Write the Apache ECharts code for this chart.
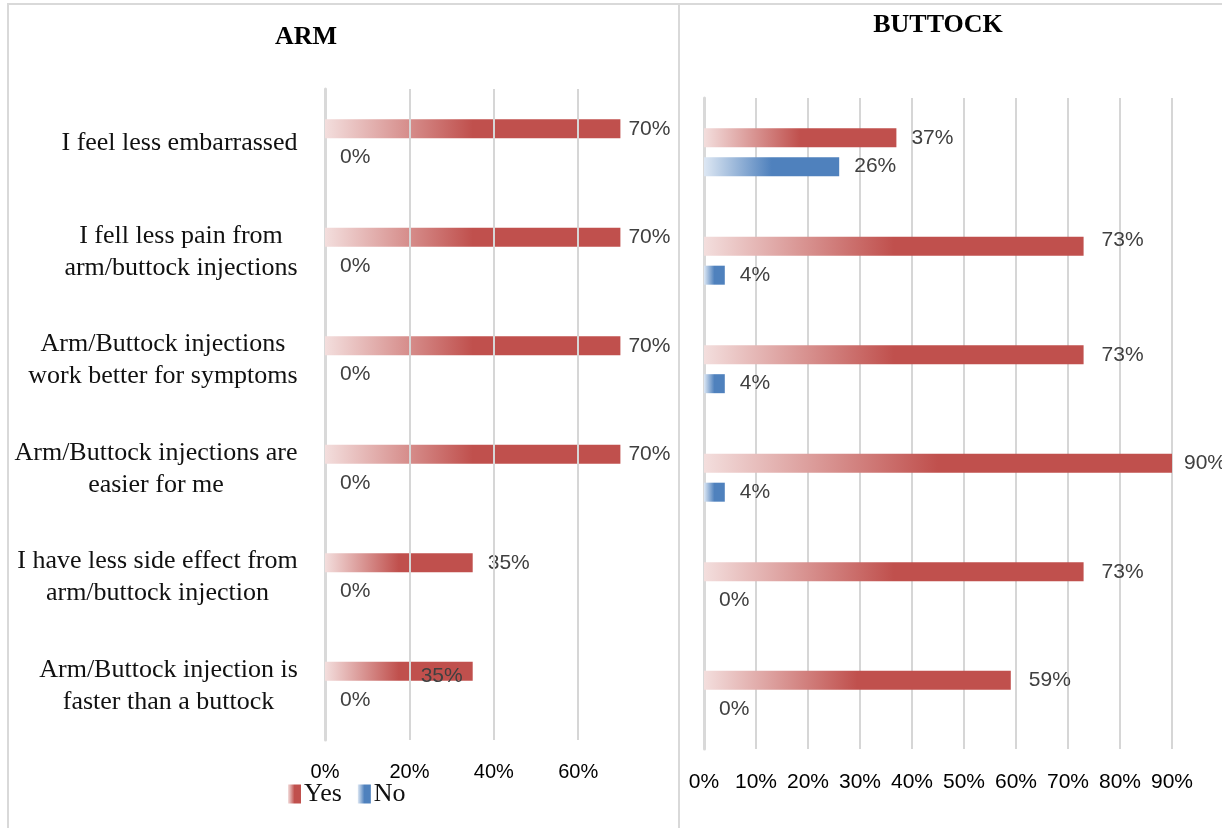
<!DOCTYPE html>
<html>
<head>
<meta charset="utf-8">
<script src="https://cdn.jsdelivr.net/npm/echarts@6/dist/echarts.min.js"></script>
<style>
html,body{margin:0;padding:0;background:#fff;}
#chart{width:1222px;height:828px;}
</style>
</head>
<body>
<div id="chart"></div>
<script>
// ---- data ----
const categories = [
  'I feel less embarrassed',
  'I fell less pain from\narm/buttock injections',
  'Arm/Buttock injections\nwork better for symptoms',
  'Arm/Buttock injections are\neasier for me',
  'I have less side effect from\narm/buttock injection',
  'Arm/Buttock injection is\nfaster than a buttock'
];
const seriesNames = ['Yes', 'No'];
const armYes = [70, 70, 70, 70, 35, 35];
const armNo = [0, 0, 0, 0, 0, 0];
const buttockYes = [37, 73, 73, 90, 73, 59];
const buttockNo = [26, 4, 4, 4, 0, 0];
const armTicks = [0, 20, 40, 60];
const buttockTicks = [0, 10, 20, 30, 40, 50, 60, 70, 80, 90];
const panelTitles = ['ARM', 'BUTTOCK'];

// ---- styling ----
const SERIF = '"Liberation Serif", "DejaVu Serif", serif';
const SANS = '"Liberation Sans", Arial, sans-serif';
const catFont = 26;
const gridColor = '#d6d6d6';

const yesGrad = new echarts.graphic.LinearGradient(0, 0, 1, 0, [
  {offset: 0, color: '#f3dedd'},
  {offset: 0.5, color: '#c0504d'},
  {offset: 1, color: '#c0504d'}
]);
const noGrad = new echarts.graphic.LinearGradient(0, 0, 1, 0, [
  {offset: 0, color: '#dde7f3'},
  {offset: 0.5, color: '#4f81bd'},
  {offset: 1, color: '#4f81bd'}
]);

// measure category label lines so each line is centred inside a right-aligned block
const cvs = document.createElement('canvas');
const ctx = cvs.getContext('2d');
ctx.font = catFont + 'px ' + SERIF;
const rich = {};
categories.forEach((c, i) => {
  const w = Math.max(...c.split('\n').map(l => ctx.measureText(l).width));
  rich['c' + i] = {width: Math.ceil(w), align: 'center', fontFamily: SERIF, fontSize: catFont, lineHeight: 32, color: '#111'};
});

const valueLabel = (dist) => ({
  show: true, position: 'right', distance: dist,
  formatter: p => p.value + '%',
  color: '#404040', fontFamily: SANS, fontSize: 21
});

function withLabelOverrides(values, overrides) {
  return values.map((v, i) => overrides[i] ? {value: v, label: overrides[i]} : v);
}

const armYesData = withLabelOverrides(armYes, {
  4: {distance: 15},
  5: {position: 'insideRight', distance: 10, offset: [0, 5]}
});
const buttockYesData = withLabelOverrides(buttockYes, {
  1: {distance: 18, offset: [0, -6]},
  2: {distance: 18},
  3: {distance: 12},
  4: {distance: 18},
  5: {distance: 18}
});

const option = {
  animation: false,
  backgroundColor: '#fff',
  legend: {
    data: seriesNames,
    left: 283, top: 776,
    itemWidth: 13, itemHeight: 19, itemGap: 16,
    icon: 'rect',
    textStyle: {fontFamily: SERIF, fontSize: 26, color: '#111', padding: [0, 0, 0, -2]}
  },
  grid: [
    {left: 325, top: 89, width: 84 * 4.22, height: 651, containLabel: false},
    {left: 704, top: 98, width: 468, height: 651, containLabel: false}
  ],
  xAxis: [
    {
      gridIndex: 0, type: 'value', min: 0, max: 84, interval: 20,
      axisLine: {show: false}, axisTick: {show: false},
      splitLine: {show: false},
      axisLabel: {
        margin: 22, color: '#000', fontFamily: SANS, fontSize: 20,
        formatter: v => armTicks.indexOf(v) >= 0 ? v + '%' : ''
      }
    },
    {
      gridIndex: 1, type: 'value', min: 0, max: 90, interval: 10,
      axisLine: {show: false}, axisTick: {show: false},
      splitLine: {show: true, lineStyle: {color: gridColor, width: 2}},
      axisLabel: {
        margin: 23, color: '#000', fontFamily: SANS, fontSize: 21,
        formatter: v => buttockTicks.indexOf(v) >= 0 ? v + '%' : ''
      }
    }
  ],
  yAxis: [
    {
      gridIndex: 0, type: 'category', data: categories, inverse: true,
      axisLine: {show: true, lineStyle: {color: '#d9d9d9', width: 3}},
      axisTick: {show: false},
      axisLabel: {
        margin: 27, align: 'right',
        formatter: (v, i) => v.split('\n').map(l => '{c' + i + '|' + l + '}').join('\n'),
        rich: rich
      }
    },
    {
      gridIndex: 1, type: 'category', data: categories, inverse: true,
      axisLine: {show: true, lineStyle: {color: '#d9d9d9', width: 3}},
      axisTick: {show: false},
      axisLabel: {show: false}
    }
  ],
  series: [
    {
      name: seriesNames[0], type: 'bar', xAxisIndex: 0, yAxisIndex: 0,
      data: armYesData, barWidth: 19, barGap: '52%',
      itemStyle: {color: yesGrad}, label: valueLabel(8),
      markLine: {
        silent: true, symbol: 'none', label: {show: false},
        lineStyle: {color: gridColor, width: 2, type: 'solid'},
        data: armTicks.filter(t => t > 0).map(t => ({xAxis: t}))
      }
    },
    {
      name: seriesNames[1], type: 'bar', xAxisIndex: 0, yAxisIndex: 0,
      data: armNo, barWidth: 19, barGap: '52%',
      itemStyle: {color: noGrad}, label: valueLabel(15)
    },
    {
      name: seriesNames[0], type: 'bar', xAxisIndex: 1, yAxisIndex: 1,
      data: buttockYesData, barWidth: 19, barGap: '52%',
      itemStyle: {color: yesGrad}, label: valueLabel(15)
    },
    {
      name: seriesNames[1], type: 'bar', xAxisIndex: 1, yAxisIndex: 1,
      data: buttockNo, barWidth: 19, barGap: '52%',
      itemStyle: {color: noGrad}, label: valueLabel(15)
    }
  ],
  graphic: [
    {type: 'rect', silent: true, z: -1, shape: {x: 8, y: 4, width: 1400, height: 1000},
     style: {fill: 'none', stroke: '#d9d9d9', lineWidth: 2}},
    {type: 'line', silent: true, z: -1, shape: {x1: 679, y1: 4, x2: 679, y2: 828},
     style: {stroke: '#d9d9d9', lineWidth: 2}},
    {type: 'text', silent: true, x: 306, y: 37,
     style: {text: panelTitles[0], align: 'center', verticalAlign: 'middle', font: 'bold 26px ' + SERIF, fill: '#000'}},
    {type: 'text', silent: true, x: 938, y: 25,
     style: {text: panelTitles[1], align: 'center', verticalAlign: 'middle', font: 'bold 26px ' + SERIF, fill: '#000'}}
  ]
};

const chart = echarts.init(document.getElementById('chart'), null, {renderer: 'canvas'});
chart.setOption(option);
</script>
</body>
</html>
